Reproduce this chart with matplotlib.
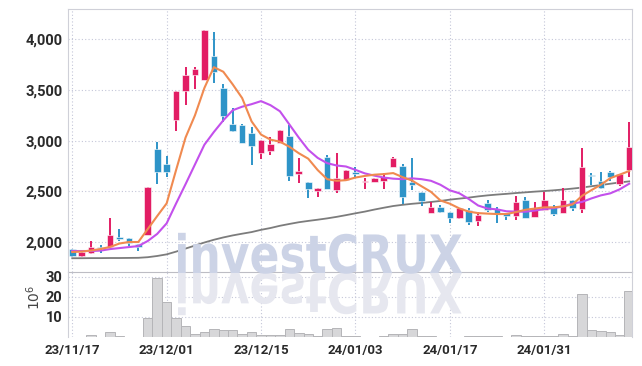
import numpy as np
import matplotlib
matplotlib.use("Agg")
import matplotlib.pyplot as plt
from matplotlib.textpath import TextPath
from matplotlib.patches import PathPatch
from matplotlib.font_manager import FontProperties
from matplotlib.transforms import Affine2D, IdentityTransform

# ---- data (price in KRW, volume in millions) ----
opens = [1931, 1862, 1892, 1954, 1954, 2046, 2036, 1977, 2069, 2917,
         2769, 3200, 3489, 3647, 3597, 3837, 3515, 3163, 3150, 3071,
         2880, 2900, 2973, 3045, 2668, 2595, 2505, 2841, 2510, 2611,
         2690, 2590, 2590, 2605, 2736, 2749, 2588, 2496, 2283, 2348,
         2296, 2240, 2315, 2210, 2381, 2322, 2289, 2253, 2417, 2243,
         2318, 2342, 2286, 2417, 2325, 2660, 2600, 2693, 2572, 2710]
highs = [1931, 1904, 2013, 1967, 2233, 2125, 2036, 1977, 2545, 2989,
         2848, 3489, 3728, 3728, 4090, 4074, 3555, 3318, 3160, 3130,
         3006, 3032, 3104, 3154, 2825, 2595, 2530, 2858, 2874, 2710,
         2736, 2628, 2628, 2680, 2841, 2769, 2825, 2496, 2397, 2365,
         2296, 2332, 2332, 2299, 2414, 2345, 2289, 2454, 2440, 2391,
         2496, 2365, 2529, 2417, 2924, 2683, 2693, 2700, 2670, 3180]
lows = [1850, 1856, 1885, 1895, 1954, 2010, 1960, 1914, 2069, 2569,
        2644, 3097, 3351, 3505, 3597, 3573, 3186, 3087, 2979, 2759,
        2815, 2858, 2973, 2604, 2585, 2431, 2441, 2523, 2486, 2611,
        2628, 2520, 2590, 2520, 2736, 2375, 2510, 2358, 2283, 2283,
        2190, 2230, 2168, 2158, 2300, 2184, 2217, 2217, 2234, 2243,
        2318, 2260, 2286, 2310, 2289, 2562, 2523, 2600, 2552, 2644]
closes = [1865, 1904, 1951, 1944, 2069, 2030, 1987, 1954, 2545, 2693,
          2693, 3489, 3647, 3706, 4090, 3680, 3242, 3097, 2979, 2946,
          3006, 2964, 3104, 2654, 2700, 2520, 2530, 2523, 2631, 2710,
          2675, 2600, 2628, 2644, 2828, 2441, 2563, 2407, 2348, 2299,
          2240, 2332, 2200, 2266, 2315, 2289, 2260, 2397, 2234, 2338,
          2417, 2273, 2414, 2332, 2736, 2650, 2530, 2644, 2670, 2933]
volume = [0.1, 0.1, 0.8, 0.1, 2.7, 0.4, 0.1, 0.1, 9.5, 29.2,
          17.2, 9.2, 5.4, 1.4, 2.4, 4.2, 3.7, 3.7, 1.7, 2.7,
          1.1, 1.1, 1.1, 3.8, 1.8, 1.3, 0.6, 3.8, 4.7, 0.6,
          0.3, 0.1, 0.1, 0.5, 1.3, 1.4, 4.2, 0.3, 0.3, 0.05,
          0.05, 0.05, 0.3, 0.3, 0.3, 0.3, 0.1, 0.8, 0.3, 0.3,
          0.7, 0.3, 1.4, 0.3, 21.2, 3.3, 2.8, 2.4, 0.8, 22.8]
ma_short = [1901, 1906, 1916, 1931, 1951, 1985, 2000, 2000, 2128, 2256,
            2381, 2710, 3030, 3250, 3520, 3725, 3680, 3555, 3420, 3190,
            3060, 3010, 2990, 2940, 2876, 2822, 2710, 2620, 2604, 2610,
            2636, 2652, 2664, 2670, 2680, 2640, 2606, 2550, 2495, 2410,
            2378, 2332, 2300, 2285, 2280, 2276, 2276, 2295, 2318, 2330,
            2342, 2342, 2352, 2370, 2455, 2512, 2565, 2630, 2665, 2700]
ma_mid = [1911, 1911, 1911, 1915, 1930, 1940, 1950, 1960, 2010, 2080,
          2184, 2380, 2570, 2765, 2960, 3085, 3200, 3300, 3335, 3360,
          3390, 3350, 3290, 3160, 3030, 2910, 2830, 2778, 2755, 2745,
          2712, 2677, 2655, 2636, 2625, 2620, 2628, 2620, 2604, 2565,
          2510, 2481, 2425, 2360, 2330, 2322, 2303, 2300, 2299, 2310,
          2325, 2335, 2350, 2380, 2395, 2430, 2460, 2480, 2520, 2575]
ma_long = [1840, 1840, 1841, 1841, 1842, 1842, 1843, 1844, 1850, 1862,
           1878, 1905, 1935, 1965, 1995, 2022, 2045, 2065, 2082, 2098,
           2120, 2138, 2160, 2178, 2195, 2208, 2220, 2233, 2248, 2265,
           2283, 2300, 2320, 2338, 2355, 2367, 2377, 2385, 2395, 2405,
           2418, 2428, 2438, 2450, 2460, 2468, 2475, 2483, 2490, 2497,
           2503, 2510, 2518, 2527, 2537, 2550, 2562, 2575, 2588, 2598]
date_labels = ["23/11/17", "23/12/01", "23/12/15", "24/01/03", "24/01/17", "24/01/31"]
date_pos = [0, 10, 20, 30, 40, 50]
price_ticks = [2000, 2500, 3000, 3500, 4000]
vol_ticks = [10, 20, 30]

UP, DOWN = "#e21d64", "#2e94c8"
GRID = dict(color="#c4c6d8", ls=(0, (1, 2)), lw=0.8)
SPINE = "#cfd0d8"
TXT = "#2a2a2a"
tick_font = FontProperties(family=["Roboto", "DejaVu Sans"], weight="bold")

fig = plt.figure(figsize=(6.42, 3.66), dpi=100)
ax = fig.add_axes([68 / 642, 1 - 272 / 366, 564 / 642, 263 / 366])
axv = fig.add_axes([68 / 642, 1 - 337 / 366, 564 / 642, 65 / 366], sharex=ax)

x = np.arange(len(opens))
o, h, l, c = map(np.array, (opens, highs, lows, closes))
cols = np.where(c >= o, UP, DOWN)

# watermark + reflection, in pixel coordinates
wm_prop = FontProperties(family="DejaVu Sans", weight="bold")
tp = TextPath((0, 0), "investCRUX", size=1, prop=wm_prop)
ext = tp.get_extents()
sx = 284 / ext.width
cap = TextPath((0, 0), "C", size=1, prop=wm_prop).get_extents().height
sy = 40 / cap
base = 366 - 273
t_up = Affine2D().translate(-ext.x0, 0).scale(sx, sy).translate(178, base)
t_dn = Affine2D().translate(-ext.x0, 0).scale(sx, -sy * 1.05).translate(178, base)
fig.add_artist(PathPatch(t_dn.transform_path(tp), transform=IdentityTransform(),
                         fc="#e6e7ef", ec="none", zorder=0.5))
fig.add_artist(PathPatch(t_up.transform_path(tp), transform=IdentityTransform(),
                         fc="#ccd3e6", ec="none", zorder=0.5))
ax.patch.set_alpha(0)
axv.patch.set_alpha(0)
fig.patch.set_facecolor("white")

# candles
ax.vlines(x, l, h, colors=cols, lw=1.4, zorder=3)
ax.bar(x, np.maximum(np.abs(c - o), 8), bottom=np.minimum(o, c), width=0.7,
       color=cols, edgecolor="white", linewidth=0.4, zorder=4)
ax.plot(x, ma_long, color="#7c7c7c", lw=1.3, zorder=2)
ax.plot(x, ma_mid, color="#c350ec", lw=1.5, zorder=5)
ax.plot(x, ma_short, color="#f08a50", lw=1.5, zorder=5)

ax.set_ylim(1704, 4299)
ax.set_xlim(-0.45, 59.3)
ax.set_yticks(price_ticks)
ax.set_yticklabels([f"{v:,}" for v in price_ticks])
ax.grid(True, **GRID)
ax.tick_params(length=0, labelbottom=False, pad=4, colors=TXT)
for s in ("left", "top", "right"):
    ax.spines[s].set_color(SPINE)
ax.spines["bottom"].set_color("#bdbdc4")
ax.set_axisbelow(True)

# volume
axv.bar(x, volume, width=1.0, color="#d7d7d9", edgecolor="#b5b5b8", linewidth=0.7, zorder=3)
axv.set_ylim(0, 32.3)
axv.set_yticks(vol_ticks)
axv.set_xticks(date_pos)
axv.set_xticklabels(date_labels)
axv.grid(True, **GRID)
axv.tick_params(length=0, pad=5, colors=TXT)
axv.tick_params(axis="y", pad=4)
axv.spines["bottom"].set_visible(False)
axv.spines["top"].set_visible(False)
for s in ("left", "right"):
    axv.spines[s].set_color(SPINE)
axv.set_axisbelow(True)

for lab in ax.get_yticklabels() + axv.get_yticklabels():
    lab.set_fontproperties(tick_font)
    lab.set_fontsize(10.5)
for lab in axv.get_xticklabels():
    lab.set_fontproperties(tick_font)
    lab.set_fontsize(9.5)

fig.text(34 / 642, 1 - 297 / 366, r"$10^6$", rotation=90, ha="center", va="center",
         fontsize=10, color="#444444")

fig.savefig("out.png", dpi=100)
print("saved out.png")
